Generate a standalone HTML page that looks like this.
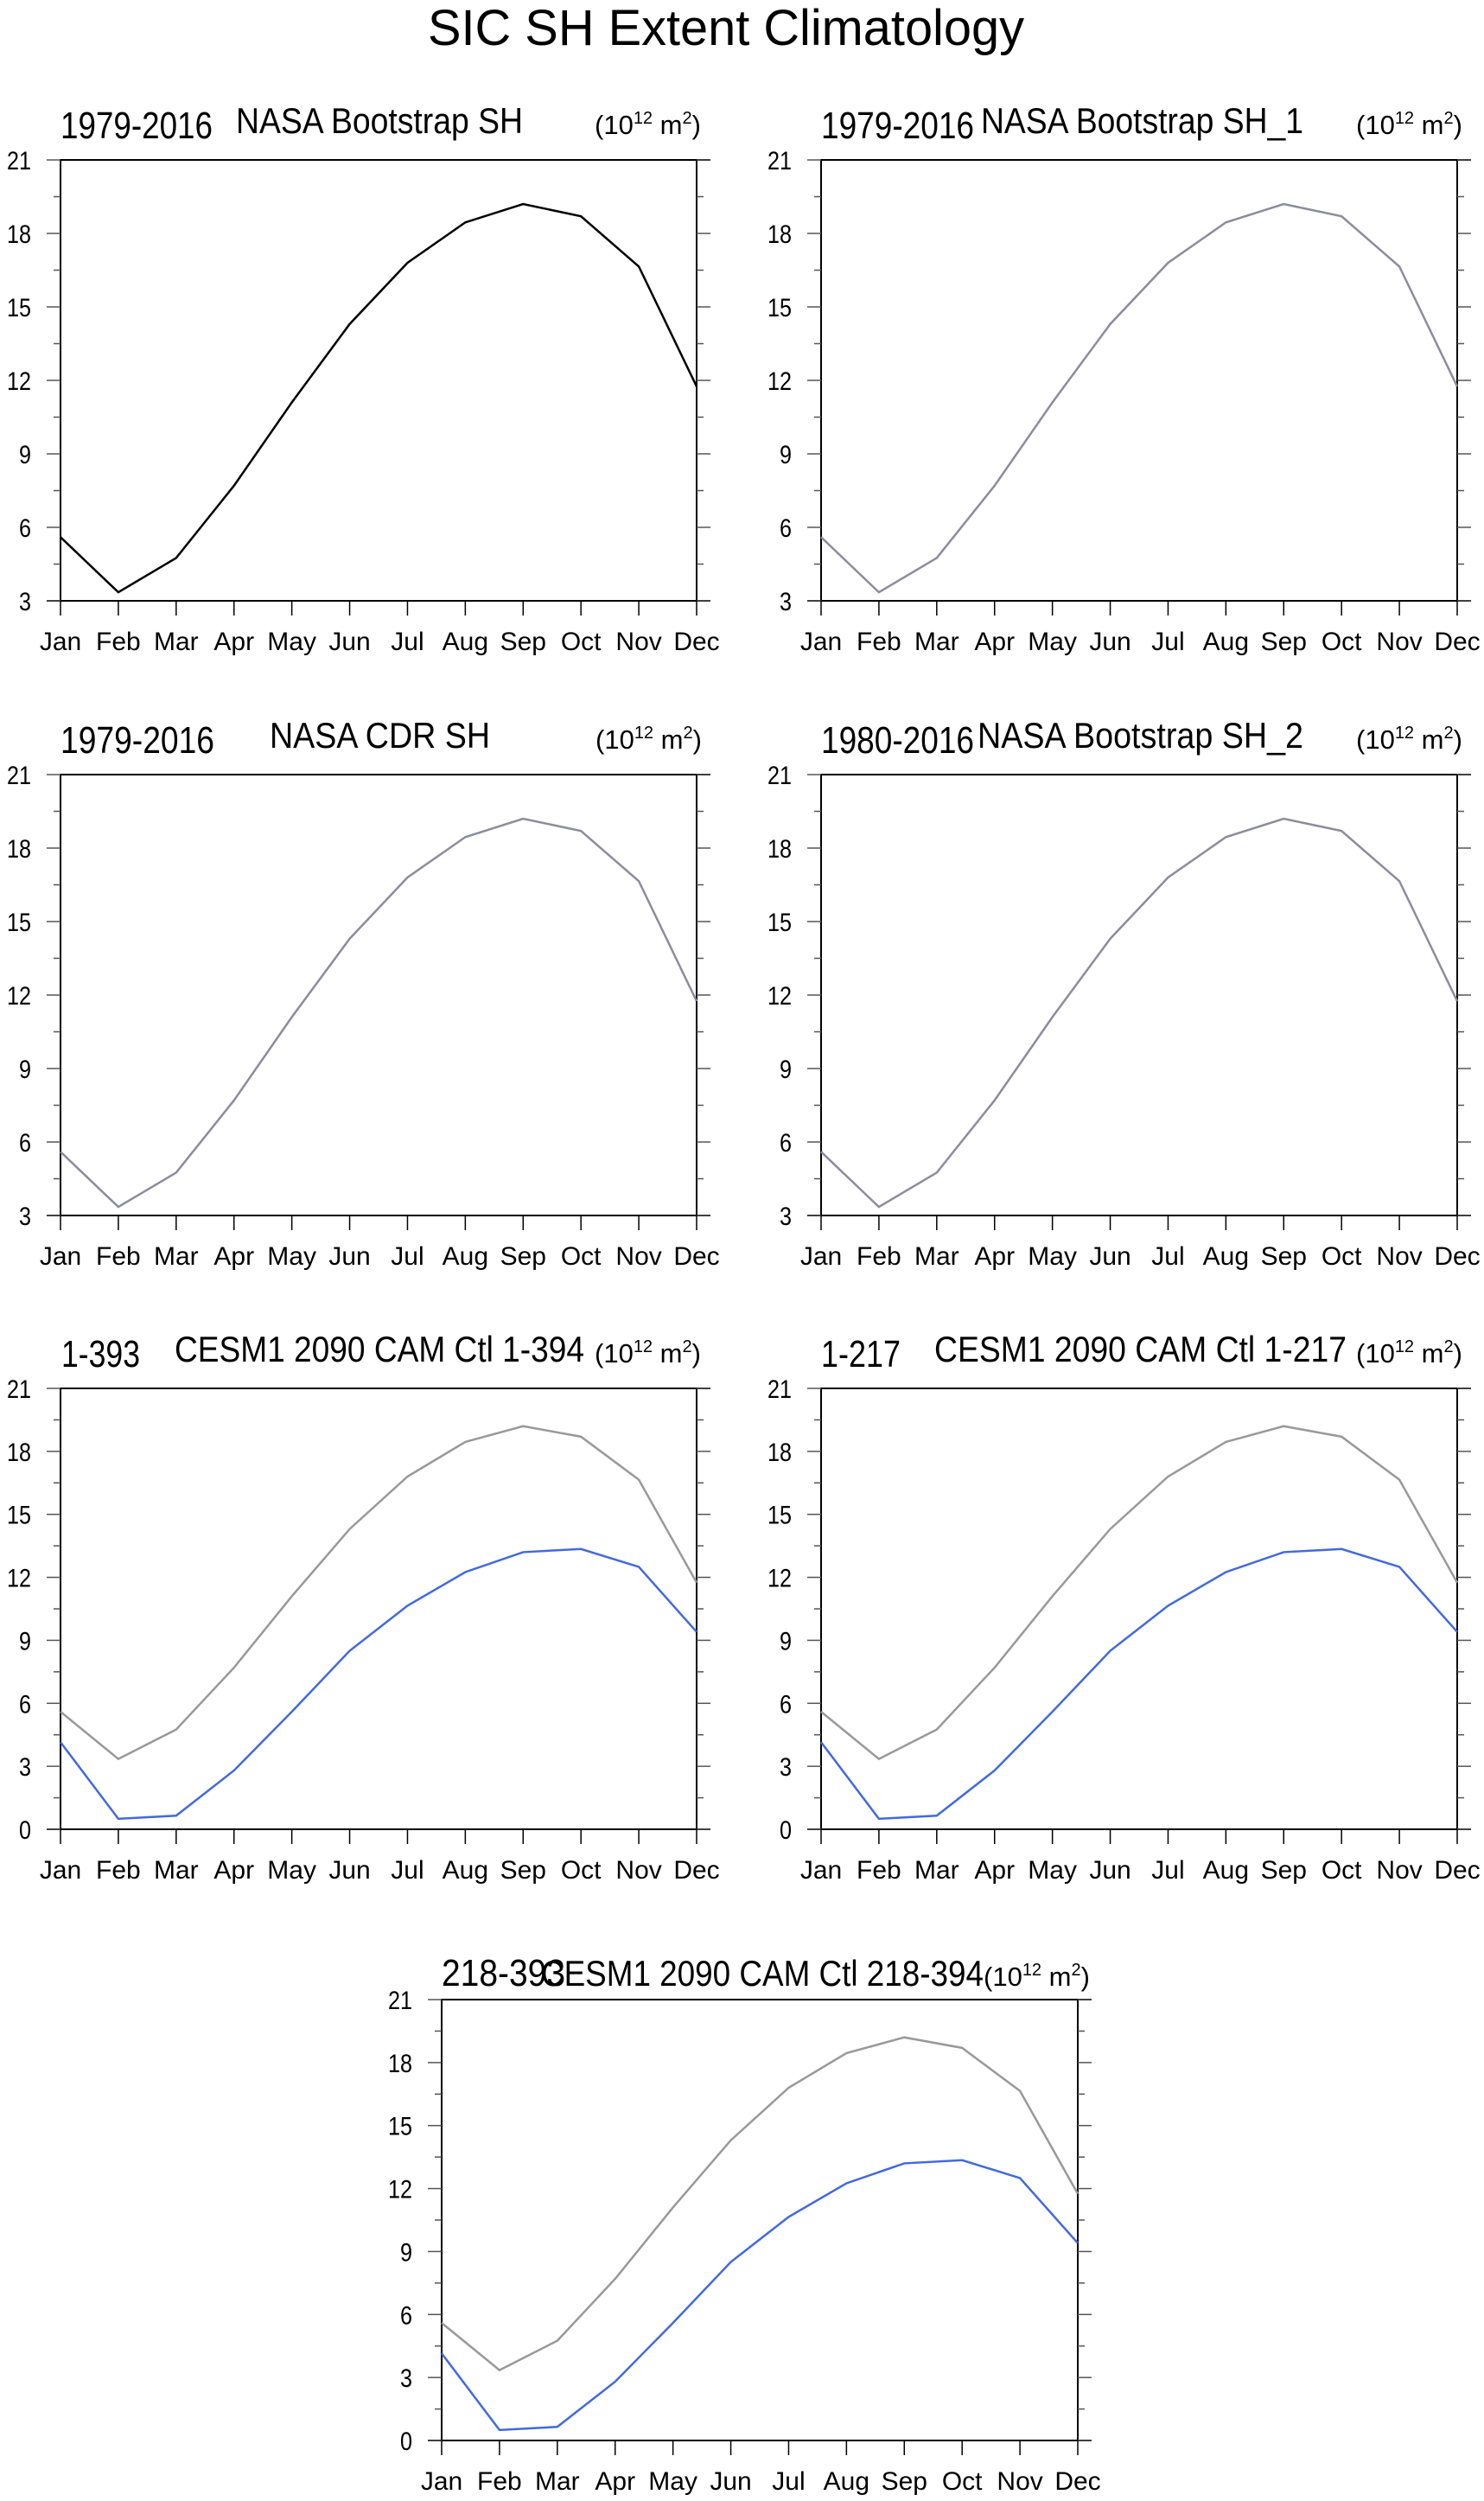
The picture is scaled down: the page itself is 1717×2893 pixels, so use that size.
<!DOCTYPE html>
<html><head><meta charset="utf-8"><style>
html,body{margin:0;padding:0;background:#fff;}
svg{display:block;font-family:"Liberation Sans",Arial,sans-serif;}
</style></head><body>
<svg id="fig" width="1717" height="2893" viewBox="0 0 1717 2893" xmlns="http://www.w3.org/2000/svg">
<text x="495" y="52" font-size="58" textLength="690" lengthAdjust="spacingAndGlyphs">SIC SH Extent Climatology</text>
</svg>
<script>
const months = ["Jan","Feb","Mar","Apr","May","Jun","Jul","Aug","Sep","Oct","Nov","Dec"];
const obsValues = [5.6, 3.35, 4.75, 7.7, 11.1, 14.3, 16.8, 18.45, 19.2, 18.7, 16.65, 11.75];
const modelValues = [4.15, 0.5, 0.65, 2.8, 5.6, 8.5, 10.65, 12.25, 13.2, 13.35, 12.5, 9.4];
const yTicksObs = [3, 6, 9, 12, 15, 18, 21];
const yTicksModel = [0, 3, 6, 9, 12, 15, 18, 21];

const NS = "http://www.w3.org/2000/svg";
const svg = document.getElementById('fig');
function mk(tag, attrs, parent) {
  const e = document.createElementNS(NS, tag);
  for (const k in attrs) e.setAttribute(k, attrs[k]);
  (parent || svg).appendChild(e);
  return e;
}
const W = 736, H = 510;
const panels = [
  {x:70, y:185, left:"1979-2016", ll:[70,246], title:"NASA Bootstrap SH", tl:[273,605], units:688, ymin:3, ticks:yTicksObs, obsColor:"#000", model:false, r4:false, name:"panel-nasa-bootstrap-sh"},
  {x:950, y:185, left:"1979-2016", ll:[950,1127], title:"NASA Bootstrap SH_1", tl:[1135,1508], units:1569, ymin:3, ticks:yTicksObs, obsColor:"#8c8c9c", model:false, r4:false, name:"panel-nasa-bootstrap-sh-1"},
  {x:70, y:896, left:"1979-2016", ll:[70,248], title:"NASA CDR SH", tl:[312,567], units:689, ymin:3, ticks:yTicksObs, obsColor:"#8c8c9c", model:false, r4:false, name:"panel-nasa-cdr-sh"},
  {x:950, y:896, left:"1980-2016", ll:[950,1127], title:"NASA Bootstrap SH_2", tl:[1131,1508], units:1569, ymin:3, ticks:yTicksObs, obsColor:"#8c8c9c", model:false, r4:false, name:"panel-nasa-bootstrap-sh-2"},
  {x:70, y:1606, left:"1-393", ll:[71,162], title:"CESM1 2090 CAM Ctl 1-394", tl:[202,676], units:688, ymin:0, ticks:yTicksModel, obsColor:"#999999", model:true, r4:false, name:"panel-cesm1-1-394"},
  {x:950, y:1606, left:"1-217", ll:[950,1042], title:"CESM1 2090 CAM Ctl 1-217", tl:[1081,1558], units:1569, ymin:0, ticks:yTicksModel, obsColor:"#999999", model:true, r4:false, name:"panel-cesm1-1-217"},
  {x:511, y:2313, left:"218-393", ll:[511,654], title:"CESM1 2090 CAM Ctl 218-394", tl:[626,1138], units:1138, ymin:0, ticks:yTicksModel, obsColor:"#999999", model:true, r4:true, name:"panel-cesm1-218-394"}
];

panels.forEach(p => {
  const g = mk('g', {});
  
  
  const ymax = 21;
  const xs = i => p.x + i * W / 11;
  const ys = v => p.y + H - (v - p.ymin) / (ymax - p.ymin) * H;
  const lb = p.r4 ? p.y - 16 : p.y - 25;
  const tb = p.r4 ? p.y - 16 : p.y - 31;
  const ub = p.r4 ? p.y - 16 : p.y - 30;
  const t1 = mk('text', {x:p.ll[0], y:lb, 'font-size':44, textLength:p.ll[1]-p.ll[0], lengthAdjust:'spacingAndGlyphs'}, g);
  t1.textContent = p.left;
  
  
  const t2 = mk('text', {x:p.tl[0], y:tb, 'font-size':42, textLength:p.tl[1]-p.tl[0], lengthAdjust:'spacingAndGlyphs'}, g);
  t2.textContent = p.title;
  
  
  const u = mk('text', {x:p.units, y:ub, 'font-size':31}, g);
  
  
  u.innerHTML = '(10<tspan dy="-12" font-size="20">12</tspan><tspan dy="12"> m</tspan><tspan dy="-12" font-size="20">2</tspan><tspan dy="12">)</tspan>';
  const fr = mk('rect', {x:p.x, y:p.y, width:W, height:H, fill:'none', stroke:'#000', 'stroke-width':2}, g);
  
  
  mk('line', {x1:p.x, x2:p.x+W+16, y1:p.y, y2:p.y, stroke:'#000', 'stroke-width':2}, g);
  mk('line', {x1:p.x-16, x2:p.x+W+16, y1:p.y+H, y2:p.y+H, stroke:'#000', 'stroke-width':2}, g);
  for (let v = p.ymin; v <= ymax + 0.01; v += 1.5) {
    const major = Math.abs(v % 3) < 0.01;
    const len = major ? 16 : 8;
    const y = ys(v);
    mk('line', {x1:p.x-len, x2:p.x, y1:y, y2:y, stroke:'#555', 'stroke-width':1.5}, g);
    mk('line', {x1:p.x+W, x2:p.x+W+len, y1:y, y2:y, stroke:'#555', 'stroke-width':1.5}, g);
  }
  p.ticks.forEach(v => {
    const s = String(v);
    const t = mk('text', {x:p.x-34, y:ys(v)+11, 'font-size':30, 'text-anchor':'end', textLength:s.length*14, lengthAdjust:'spacingAndGlyphs'}, g);
    t.textContent = s;
    
    
  });
  months.forEach((m, i) => {
    mk('line', {x1:xs(i), x2:xs(i), y1:p.y+H, y2:p.y+H+17, stroke:'#000', 'stroke-width':1.5}, g);
    const t = mk('text', {x:xs(i), y:p.y+H+57, 'font-size':30, 'text-anchor':'middle'}, g);
    t.textContent = m;
    
    
  });
  const ol = mk('polyline', {points: obsValues.map((v,i)=>xs(i)+','+ys(v)).join(' '), fill:'none', stroke:p.obsColor, 'stroke-width':2.5}, g);
  
  
  if (p.model) {
    const ml = mk('polyline', {points: modelValues.map((v,i)=>xs(i)+','+ys(v)).join(' '), fill:'none', stroke:'#4169e1', 'stroke-width':2.5}, g);
    
    
  }
});
</script>
</body></html>
